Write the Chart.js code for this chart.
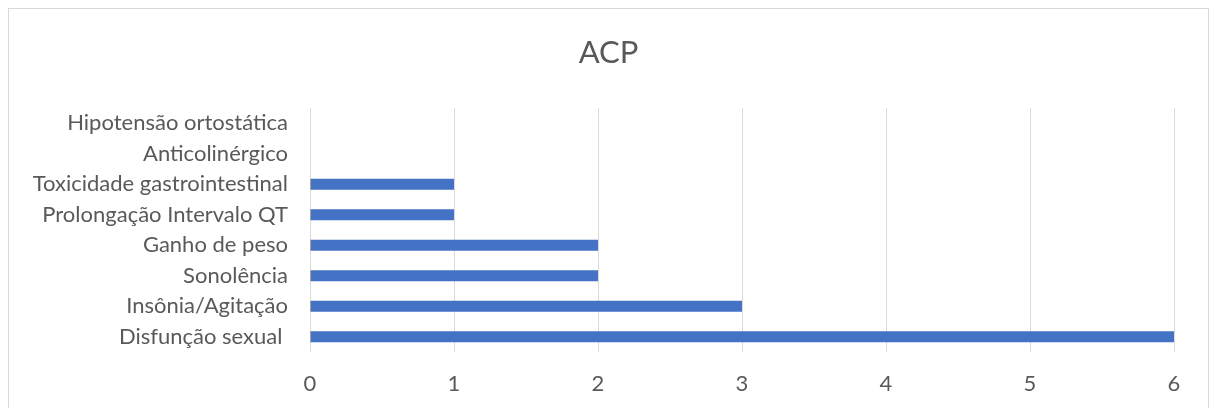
<!DOCTYPE html>
<html>
<head>
<meta charset="utf-8">
<script src="https://cdn.jsdelivr.net/npm/chart.js@4/dist/chart.umd.min.js"></script>
<style>
  html, body { margin: 0; padding: 0; background: #ffffff; }
  #frame {
    position: absolute; left: 8px; top: 8px;
    width: 1199px; height: 402px;
    border: 1px solid #d9d9d9; background: #ffffff;
  }
  canvas { display: block; }
</style>
</head>
<body>
<div id="frame"><canvas id="chart" width="1199" height="400"></canvas></div>
<script>
// Adverse effects, listed top to bottom
const categories = [
  'Hipotensão ortostática',
  'Anticolinérgico',
  'Toxicidade gastrointestinal',
  'Prolongação Intervalo QT',
  'Ganho de peso',
  'Sonolência',
  'Insônia/Agitação',
  'Disfunção sexual '
];
const counts = [0, 0, 1, 1, 2, 2, 3, 6];
const xTicks = [0, 1, 2, 3, 4, 5, 6];

const textColor = '#595959';
const fontFamily = 'Lato, "Open Sans", sans-serif';

// Centre the title across the whole canvas rather than the padded area
const centreTitle = {
  id: 'centreTitle',
  afterLayout(chart) {
    if (chart.titleBlock) {
      chart.titleBlock.left = 0;
      chart.titleBlock.right = chart.width;
      chart.titleBlock.width = chart.width;
    }
  }
};

new Chart(document.getElementById('chart'), {
  type: 'bar',
  data: {
    labels: categories,
    datasets: [{
      data: counts,
      backgroundColor: '#4472C4',
      borderWidth: 0,
      categoryPercentage: 1,
      barPercentage: 0.36
    }]
  },
  plugins: [centreTitle],
  options: {
    indexAxis: 'y',
    responsive: false,
    animation: false,
    layout: { padding: { left: 0, right: 34, top: 0, bottom: 11.6 } },
    plugins: {
      legend: { display: false },
      tooltip: { enabled: false },
      title: {
        display: true,
        text: 'ACP',
        color: textColor,
        font: { family: fontFamily, size: 31, weight: 'normal' },
        padding: { top: 25, bottom: 36.8 }
      }
    },
    scales: {
      x: {
        min: xTicks[0],
        max: xTicks[xTicks.length - 1],
        afterBuildTicks: (scale) => { scale.ticks = xTicks.map(v => ({ value: v })); },
        afterFit: (scale) => { scale.height = 45.4; },
        grid: { color: '#d9d9d9', lineWidth: 1, drawTicks: false },
        border: { display: false },
        ticks: {
          color: textColor,
          padding: 19,
          font: { family: fontFamily, size: 22 }
        }
      },
      y: {
        grid: { display: false, drawTicks: false },
        border: { display: false },
        afterFit: (scale) => { scale.width = 301; },
        ticks: {
          color: textColor,
          padding: 22,
          font: { family: fontFamily, size: 22 }
        }
      }
    }
  }
});
</script>
</body>
</html>
